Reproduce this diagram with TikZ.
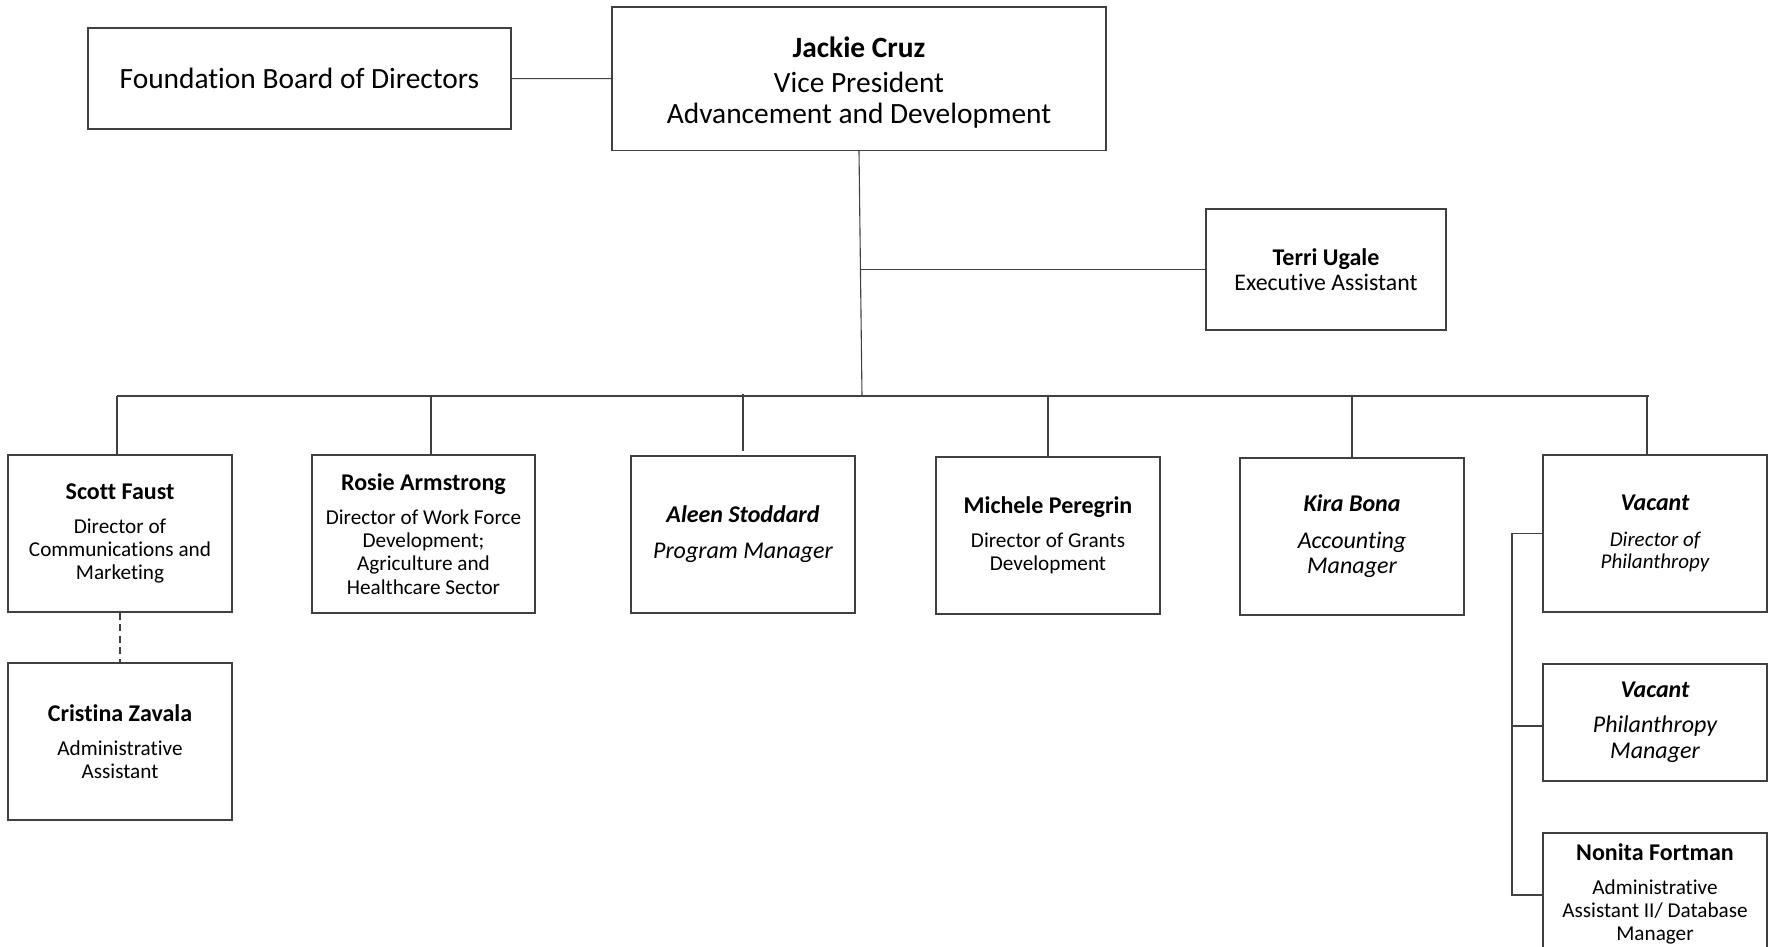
\documentclass[tikz,border=0pt]{standalone}
\usepackage{fontspec}
\setmainfont{Carlito}[Ligatures=NoCommon]
\newcommand{\pname}[1]{{\fontsize{12}{12}\selectfont\bfseries #1}}
\begin{document}
\begin{tikzpicture}[x=0.5pt,y=-0.5pt,
   box/.style={draw=black!75,line width=0.6pt,inner sep=0pt,minimum width=112pt,minimum height=78.5pt,align=center,font=\fontsize{10.6}{11.6}\selectfont},
   link/.style={draw=black!75,line width=0.55pt}]
   \useasboundingbox (0,0) rectangle (1774,947);
   \node[box,minimum width=211.5pt,minimum height=50.5pt,font=\fontsize{14.7}{15.5}\selectfont] (board) at (299.5,78.5) {Foundation Board of Directors};
   \node[box,minimum width=247pt,minimum height=71.75pt,font=\fontsize{14.7}{15.5}\selectfont] (vp) at (859,78.7) {\rule{0pt}{14.6pt}{\bfseries Jackie Cruz}\\[2pt] Vice President\\ Advancement and Development};
   \node[box,minimum width=120pt,minimum height=60.5pt,font=\fontsize{11.9}{12.7}\selectfont] (terri) at (1326,269.5) {\pname{Terri Ugale}\\ Executive Assistant};
   \node[box] (scott) at (120,533.5) {\pname{Scott Faust}\\[5.4pt] Director of\\ Communications and\\ Marketing};
   \node[box,minimum width=111.5pt,minimum height=79pt] (rosie) at (423.5,534) {\pname{Rosie Armstrong}\\[5.4pt] Director of Work Force\\ Development;\\ Agriculture and\\ Healthcare Sector};
   \node[box,font=\fontsize{12}{12.5}\selectfont\itshape] (aleen) at (743,534.5) {{\bfseries Aleen Stoddard}\\[5.5pt] Program Manager};
   \node[box] (michele) at (1048,535.5) {\pname{Michele Peregrin}\\[5.4pt] Director of Grants\\ Development};
   \node[box,font=\fontsize{12}{12.5}\selectfont\itshape] (kira) at (1352,536.5) {{\bfseries Kira Bona}\\[6pt] Accounting\\ Manager};
   \node[box,font=\fontsize{10.5}{11}\selectfont\itshape] (vacdir) at (1655,533.5) {\pname{Vacant}\\[7pt] Director of\\ Philanthropy};
   \node[box] (cristina) at (120,741.5) {\pname{Cristina Zavala}\\[5.4pt] Administrative\\ Assistant};
   \node[box,minimum height=58.5pt,font=\fontsize{12}{13}\selectfont\itshape] (vacpm) at (1655,722.5) {{\bfseries Vacant}\\[4.5pt] Philanthropy\\ Manager};
   \node[box,minimum height=61pt] (nonita) at (1655,894) {\pname{Nonita Fortman}\\[5.4pt] Administrative\\ Assistant II/ Database\\ Manager};
   \coordinate (hub) at (862,396);
   \coordinate (tap) at (861,269.5);
   \coordinate (busL) at (117,396);
   \coordinate (busR) at (1649,396);
   \coordinate (daleen) at (743,394);
   \coordinate (brkT) at (1512,533.5);
   \coordinate (brkM) at (1512,726);
   \coordinate (brkB) at (1512,895);
   \draw[link] (board) -- (vp);
   \draw[link] (vp.south) -- (hub);
   \draw[link] (tap) -- (terri.west);
   \draw[link] (busL) -- (busR);
   \foreach \x/\n in {117/scott,431/rosie,1048/michele,1352/kira,1647/vacdir}{
      \coordinate (d\n) at (\x,396);
      \draw[link] (d\n) -- (d\n |- \n.north);
   }
   \draw[link] (daleen) -- ([yshift=2pt]aleen.north);
   \draw[link,dash pattern=on 3.5pt off 2.3pt] (scott) -- (cristina);
   \draw[link] (vacdir.west) -- (brkT) -- (brkB) -- (brkB -| nonita.west);
   \draw[link] (brkM) -- (brkM -| vacpm.west);
\end{tikzpicture}
\end{document}
